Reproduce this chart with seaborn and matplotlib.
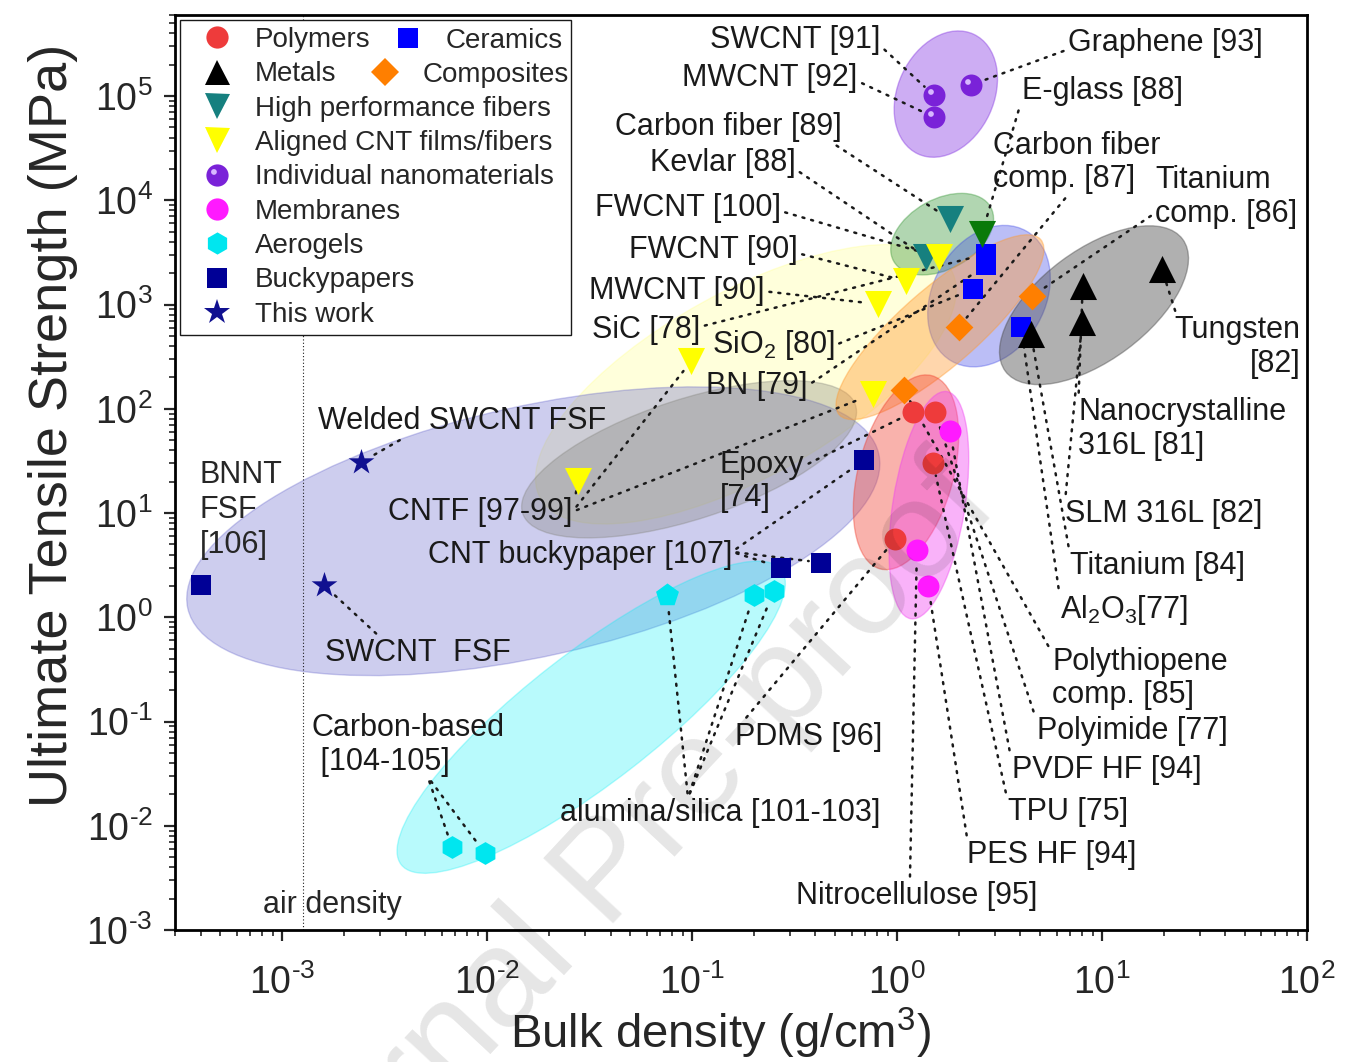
#!/usr/bin/env python3
"""
Ashby-type chart: ultimate tensile strength vs bulk density
"""

import numpy as np
import pandas as pd
import matplotlib
matplotlib.use('Agg')
import matplotlib.pyplot as plt
import matplotlib.transforms as mtransforms
import matplotlib.ticker as mticker
import seaborn as sns
from matplotlib import font_manager
from matplotlib.lines import Line2D
from matplotlib.patches import Ellipse
from matplotlib.path import Path
from matplotlib.markers import MarkerStyle
from matplotlib.legend_handler import HandlerTuple

# ---------------------------------------------------------------- data
polymer_density = [1.20, 1.53, 1.50, 0.98]
polymer_strength = [93, 93, 30, 5.6]

ceramic_density = [2.72, 2.72, 2.34, 4.03]
ceramic_strength = [3050, 2390, 1400, 607]

metal_density = [4.5, 8.05, 8.0, 19.6]
metal_strength = [520, 1510, 680, 2180]

composite_density = [4.56, 2.0, 1.08]
composite_strength = [1205, 607, 151]

hpf_density = [1.81, 1.39]          # carbon fiber, kevlar
hpf_strength = [6600, 2850]
eglass_density = [2.59]
eglass_strength = [4740]

cnt_density = [1.60, 1.105, 0.805, 0.761, 0.099, 0.0278]
cnt_strength = [2850, 1680, 1010, 138, 286, 20.2]

nano_density = [1.51, 1.51, 2.3]
nano_strength = [1.02e5, 6.3e4, 1.28e5]

membrane_density = [1.81, 1.25, 1.42]
membrane_strength = [61, 4.4, 1.98]

oxide_aerogel_density = [0.0755, 0.20, 0.251]
oxide_aerogel_strength = [1.63, 1.63, 1.79]
carbon_aerogel_density = [0.00675, 0.00978]
carbon_aerogel_strength = [0.0062, 0.00543]

bucky_density = [4.0e-4, 0.272, 0.426, 0.69]
bucky_strength = [2.03, 3.0, 3.35, 32]

this_work_density = [0.00243, 0.0016]
this_work_strength = [30.7, 2.03]

air_density = 1.27e-3

series = {
    'polymer': (polymer_density, polymer_strength),
    'ceramic': (ceramic_density, ceramic_strength),
    'metal': (metal_density, metal_strength),
    'composite': (composite_density, composite_strength),
    'hpf': (hpf_density, hpf_strength),
    'eglass': (eglass_density, eglass_strength),
    'cnt': (cnt_density, cnt_strength),
    'nano': (nano_density, nano_strength),
    'membrane': (membrane_density, membrane_strength),
    'oxide_aerogel': (oxide_aerogel_density, oxide_aerogel_strength),
    'carbon_aerogel': (carbon_aerogel_density, carbon_aerogel_strength),
    'bucky': (bucky_density, bucky_strength),
    'this_work': (this_work_density, this_work_strength),
}

# ---------------------------------------------------------------- style
sns.set_theme(style='ticks')
installed = {f.name for f in font_manager.fontManager.ttflist}
base_font = 'Liberation Sans' if 'Liberation Sans' in installed else 'DejaVu Sans'
plt.rcParams['font.family'] = [base_font, 'DejaVu Sans']
plt.rcParams['mathtext.fontset'] = 'custom'
plt.rcParams['mathtext.rm'] = base_font
plt.rcParams['mathtext.default'] = 'regular'
plt.rcParams['axes.unicode_minus'] = False

RED = '#ee3b3b'
BLUE = '#0000ff'
ORANGE = '#ff7f00'
TEAL = '#16807f'
YELLOW = '#ffff00'
PURPLE = '#7a22d8'
MAGENTA = '#ff1aff'
CYAN = '#00e6ef'
NAVY = '#000096'
STAR = '#101090'

fig, ax = plt.subplots(figsize=(13.46, 10.62), dpi=100)
fig.subplots_adjust(left=0.130, right=0.971, bottom=0.1243, top=0.9859)
ax.set_xscale('log')
ax.set_yscale('log')

# ---------------------------------------------------------------- shaded regions
# centre (data), width/height (inches), angle (deg), colour, alpha
region_shapes = [
    (0.183, 172, 4.70, 1.85, 29, '#ffff80', 0.28),   # aligned CNT
    (0.0168, 6.69, 7.08, 2.50, 12.6, '#5a5ac8', 0.30),  # buckypapers
    (0.0967, 32.8, 3.50, 1.20, 18, '#808078', 0.32),  # CNTF
    (0.0322, 0.11, 4.81, 1.30, 37.8, '#00eef5', 0.28),  # aerogels
    (1.73, 1.045e5, 1.32, 0.96, 65, '#8232e1', 0.40),  # nanomaterials
    (1.66, 4740, 1.11, 0.70, 29, '#3c9a3c', 0.40),    # fibers
    (2.81, 1205, 1.50, 1.12, 60, '#3c46e6', 0.35),    # ceramics
    (1.62, 607, 2.67, 0.78, 41, '#ff9a30', 0.40),     # composites
    (1.106, 24.6, 2.00, 0.95, 75, '#f04030', 0.40),   # polymers
    (1.43, 11.9, 2.30, 0.72, 81, '#f040f0', 0.40),    # membranes
    (9.14, 986, 2.21, 1.10, 36.7, '#505050', 0.45),   # metals
]
for cx, cy, w, h, ang, fc, a in region_shapes:
    trans = fig.dpi_scale_trans + mtransforms.ScaledTranslation(cx, cy, ax.transData)
    ax.add_patch(Ellipse((0, 0), w, h, angle=ang, transform=trans,
                         facecolor=fc, edgecolor=fc, alpha=a, lw=1.0, zorder=1))

ax.axvline(air_density, ls=(0, (1, 2)), lw=0.8, color='k', zorder=1.5)

# ---------------------------------------------------------------- markers
def draw(xs, ys, marker, color, size, z=4):
    sns.scatterplot(x=xs, y=ys, marker=marker, color=color, s=size,
                    linewidth=0, ax=ax, zorder=z, legend=False)

# highlight spot for the spheres
circ = Path.circle((-0.16, 0.16), 0.13)
hl_path = Path(np.vstack([circ.vertices, [[0.5, 0.5], [-0.5, -0.5]]]),
               np.concatenate([circ.codes, [Path.MOVETO, Path.MOVETO]]))
HL = MarkerStyle(hl_path)

draw(polymer_density, polymer_strength, 'o', RED, 250)
draw(ceramic_density, ceramic_strength, 's', BLUE, 210)
draw(metal_density, metal_strength, '^', 'black', 380)
draw(composite_density, composite_strength, 'D', ORANGE, 200)
draw(hpf_density, hpf_strength, 'v', TEAL, 380)
draw(eglass_density, eglass_strength, 'v', '#0a7a0a', 380)
draw(cnt_density, cnt_strength, 'v', YELLOW, 380)
draw(nano_density, nano_strength, 'o', PURPLE, 250)
draw(nano_density, nano_strength, HL, '#d7b8ff', 250, z=4.5)
draw(membrane_density, membrane_strength, 'o', MAGENTA, 250)
draw(oxide_aerogel_density[:1], oxide_aerogel_strength[:1], 'p', CYAN, 300)
draw(oxide_aerogel_density[1:], oxide_aerogel_strength[1:], 'h', CYAN, 270)
draw(carbon_aerogel_density, carbon_aerogel_strength, 'h', CYAN, 270)
draw(bucky_density, bucky_strength, 's', NAVY, 210)
draw(this_work_density, this_work_strength, '*', STAR, 380)

# ---------------------------------------------------------------- labels
# text, x / y (axes fraction), alignment, leader start, targets
labels = [
    ('SWCNT [91]', 0.623, 0.973, 'right', (1, 0.3), [('nano', 0)]),
    ('MWCNT [92]', 0.603, 0.931, 'right', (1, 0.4), [('nano', 1)]),
    ('Graphene [93]', 0.789, 0.969, 'left', (0, 0.3), [('nano', 2)]),
    ('E-glass [88]', 0.748, 0.917, 'left', (0, 0.2), [('eglass', 0)]),
    ('Carbon fiber [89]', 0.589, 0.878, 'right', (0.95, 0.0), [('hpf', 0)]),
    ('Kevlar [88]', 0.548, 0.838, 'right', (1, 0.3), [('hpf', 1)]),
    ('Carbon fiber\ncomp. [87]', 0.723, 0.839, 'left', (0.45, 0.0), [('composite', 1)]),
    ('Titanium\ncomp. [86]', 0.866, 0.801, 'left', (0, 0.25), [('composite', 0)]),
    ('FWCNT [100]', 0.535, 0.789, 'right', (1, 0.4), [('cnt', 0)]),
    ('FWCNT [90]', 0.550, 0.743, 'right', (1, 0.4), [('cnt', 1)]),
    ('MWCNT [90]', 0.521, 0.698, 'right', (1, 0.5), [('cnt', 2)]),
    ('SiC [78]', 0.464, 0.656, 'right', (1, 0.6), [('ceramic', 0)]),
    ('SiO$_2$ [80]', 0.474, 0.639, 'left', (1, 0.5), [('ceramic', 2)]),
    ('BN [79]', 0.559, 0.595, 'right', (1, 0.5), [('ceramic', 1)]),
    ('Welded SWCNT FSF', 0.126, 0.556, 'left', (0.4, 0.5), [('this_work', 0)]),
    ('BNNT\nFSF\n[106]', 0.022, 0.459, 'left', None, []),
    ('CNTF [97-99]', 0.351, 0.457, 'right', (1, 0.5),
     [('cnt', 5), ('cnt', 4), ('cnt', 3)]),
    ('Epoxy\n[74]', 0.481, 0.490, 'left', (1, 0.75), [('polymer', 0)]),
    ('CNT buckypaper [107]', 0.492, 0.410, 'right', (1, 0.6),
     [('bucky', 1), ('bucky', 2), ('bucky', 3)]),
    ('SWCNT  FSF', 0.1325, 0.303, 'left', (0.3, 1), [('this_work', 1)]),
    ('Carbon-based\n [104-105]', 0.121, 0.202, 'left', (0.6, 0),
     [('carbon_aerogel', 0), ('carbon_aerogel', 1)]),
    ('alumina/silica [101-103]', 0.340, 0.128, 'left', (0.4, 1),
     [('oxide_aerogel', 0), ('oxide_aerogel', 1), ('oxide_aerogel', 2)]),
    ('PDMS [96]', 0.495, 0.211, 'left', (0.05, 1), [('polymer', 3)]),
    ('Nitrocellulose [95]', 0.549, 0.037, 'left', (0.47, 1), [('membrane', 1)]),
    ('PES HF [94]', 0.700, 0.082, 'left', (0, 1), [('membrane', 2)]),
    ('TPU [75]', 0.736, 0.129, 'left', (0, 0.8), [('polymer', 2)]),
    ('PVDF HF [94]', 0.739, 0.175, 'left', (0, 0.8), [('membrane', 0)]),
    ('Polyimide [77]', 0.7615, 0.2175, 'left', (0, 0.8), [('polymer', 1)]),
    ('Polythiopene\ncomp. [85]', 0.775, 0.275, 'left', (0, 0.9), [('composite', 2)]),
    ('Al$_2$O$_3$[77]', 0.782, 0.350, 'left', (0, 0.8), [('ceramic', 3)]),
    ('Titanium [84]', 0.791, 0.398, 'left', (0, 0.8), [('metal', 0)]),
    ('SLM 316L [82]', 0.786, 0.455, 'left', (0, 0.8), [('metal', 2)]),
    ('Nanocrystalline\n316L [81]', 0.798, 0.5475, 'left', (0, 0.9), [('metal', 1)]),
    ('Tungsten\n[82]', 0.994, 0.637, 'right', (0.1, 0.5), [('metal', 3)]),
    ('air density', 0.078, 0.027, 'left', None, []),
]

FS = 22
dots = (0, (0.8, 2.8))
for txt, fx, fy, ha, rel, targets in labels:
    if not targets:
        ax.text(fx, fy, txt, transform=ax.transAxes, ha=ha, va='center',
                fontsize=FS, multialignment=ha, linespacing=1.2, zorder=6)
        continue
    for j, (key, idx) in enumerate(targets):
        xs, ys = series[key]
        ax.annotate(txt, xy=(xs[idx], ys[idx]), xycoords='data',
                    xytext=(fx, fy), textcoords='axes fraction',
                    ha=ha, va='center', fontsize=FS, multialignment=ha,
                    linespacing=1.15, color='k' if j == 0 else 'none',
                    arrowprops=dict(arrowstyle='-', ls=dots, lw=1.8, color='k',
                                    shrinkA=1, shrinkB=9, relpos=rel),
                    zorder=3)

# ---------------------------------------------------------------- legend
def handle(marker, color, ms):
    return Line2D([], [], ls='none', marker=marker, markerfacecolor=color,
                  markeredgewidth=0, markersize=ms)

sphere = (handle('o', PURPLE, 16), handle(HL, '#d7b8ff', 16))
main_handles = [handle('o', RED, 16), handle('^', 'black', 18),
                handle('v', TEAL, 18), handle('v', YELLOW, 18), sphere,
                handle('o', MAGENTA, 16), handle('h', CYAN, 16),
                handle('s', NAVY, 14), handle('*', STAR, 19)]
main_labels = ['Polymers', 'Metals', 'High performance fibers',
               'Aligned CNT films/fibers', 'Individual nanomaterials',
               'Membranes', 'Aerogels', 'Buckypapers', 'This work']
leg_kw = dict(fontsize=20, labelspacing=0.30, handlelength=2.2,
              handletextpad=0.25, borderaxespad=0,
              handler_map={tuple: HandlerTuple(ndivide=1, pad=0)})
leg = ax.legend(main_handles, main_labels, loc='upper left',
                bbox_to_anchor=(0.0044, 0.6525, 0.3454, 0.342), mode='expand',
                frameon=True, fancybox=False, edgecolor='k', facecolor='white',
                framealpha=1, borderpad=0.25, **leg_kw)
leg.get_frame().set_linewidth(1.0)
leg.set_zorder(7)
ax.add_artist(leg)

leg2 = ax.legend([handle('s', BLUE, 14)], ['Ceramics'], loc='center left',
                 bbox_to_anchor=(0.1788, 0.9716), frameon=False, borderpad=0, **leg_kw)
leg2.set_zorder(8)
ax.add_artist(leg2)
leg3 = ax.legend([handle('D', ORANGE, 14)], ['Composites'], loc='center left',
                 bbox_to_anchor=(0.1585, 0.9344), frameon=False, borderpad=0, **leg_kw)
leg3.set_zorder(8)

# ---------------------------------------------------------------- axes
def decade(v, pos):
    return '$10^{\\text{%d}}$' % int(round(np.log10(v)))

ax.set_xlim(3e-4, 1e2)
ax.set_ylim(1e-3, 6e5)
ax.xaxis.set_major_locator(mticker.LogLocator(base=10, numticks=20))
ax.yaxis.set_major_locator(mticker.LogLocator(base=10, numticks=20))
ax.xaxis.set_major_formatter(mticker.FuncFormatter(decade))
ax.yaxis.set_major_formatter(mticker.FuncFormatter(decade))
ax.xaxis.set_minor_locator(mticker.LogLocator(base=10, subs=np.arange(2, 10), numticks=100))
ax.yaxis.set_minor_locator(mticker.LogLocator(base=10, subs=np.arange(2, 10), numticks=100))
ax.xaxis.set_minor_formatter(mticker.NullFormatter())
ax.yaxis.set_minor_formatter(mticker.NullFormatter())
ax.tick_params(which='major', direction='out', length=8, width=1.6,
               labelsize=27, bottom=True, left=True, top=False, right=False)
ax.tick_params(axis='x', which='major', pad=17)
ax.tick_params(axis='y', which='major', pad=8)
ax.tick_params(which='minor', direction='out', length=4, width=1.2,
               bottom=True, left=True, top=False, right=False)
for sp in ax.spines.values():
    sp.set_linewidth(2.0)
    sp.set_color('black')

ax.set_ylabel('Ultimate Tensile Strength (MPa)', fontsize=39)
ax.set_xlabel('Bulk density (g/cm$^{3}$)', fontsize=34)
ax.yaxis.set_label_coords(-0.086, 0.552)
ax.xaxis.set_label_coords(0.482, -0.083)

# watermark
fig.text(0.452, 0.176, 'Journal Pre-proof', rotation=47, fontsize=100,
         color='black', alpha=0.1, ha='center', va='center', zorder=10)

plt.savefig('out.png', dpi=100)
plt.close()
